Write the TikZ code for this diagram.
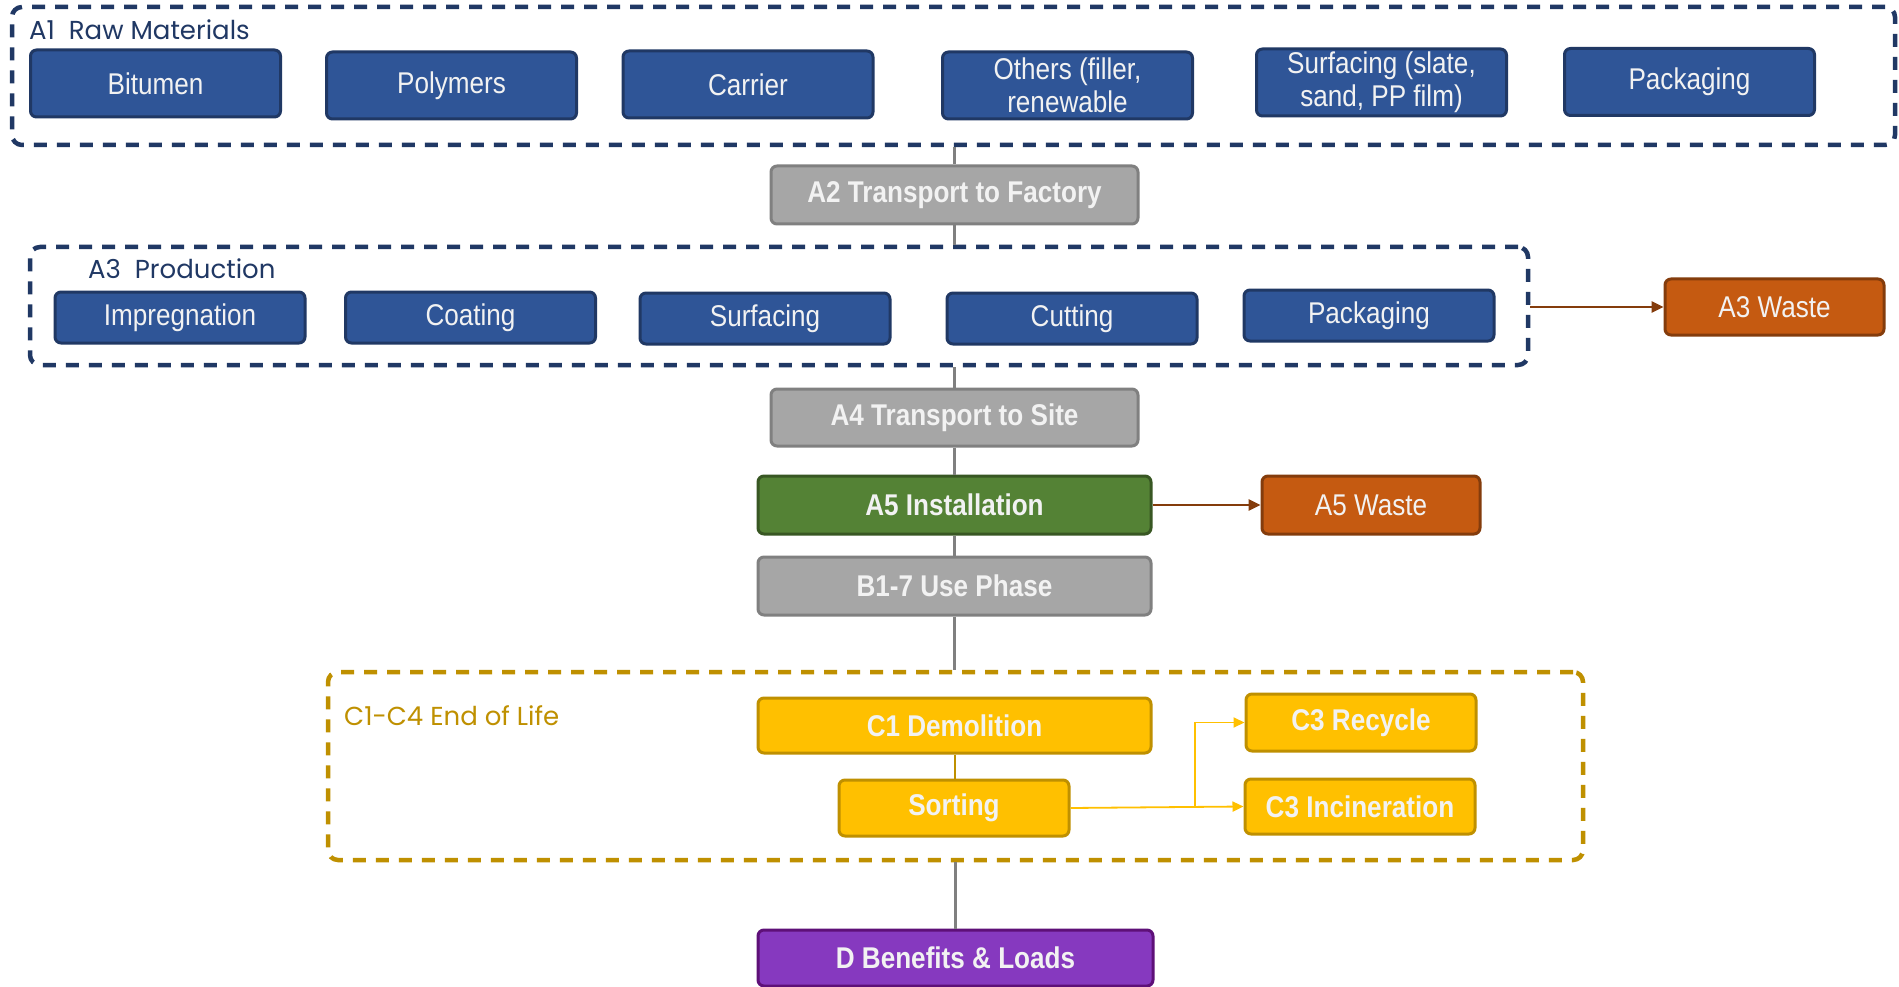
\documentclass[tikz,border=0pt]{standalone}
\usepackage{fontspec}
\setmainfont{Liberation Sans}
\newfontfamily\bx[FakeStretch=0.87]{Liberation Sans}
\newfontfamily\pop{Poppins}
\usetikzlibrary{arrows.meta}
\definecolor{navy}{HTML}{203864}
\definecolor{bluef}{HTML}{2F5597}
\definecolor{grayf}{HTML}{A6A6A6}
\definecolor{grayd}{HTML}{808080}
\definecolor{greenf}{HTML}{548235}
\definecolor{greend}{HTML}{385723}
\definecolor{orangef}{HTML}{C55A11}
\definecolor{oranged}{HTML}{843C0C}
\definecolor{goldf}{HTML}{FFC000}
\definecolor{goldd}{HTML}{BF9000}
\definecolor{purplef}{HTML}{8639BF}
\definecolor{purpled}{HTML}{5E1078}
\definecolor{txt}{HTML}{F2F2F2}
\tikzset{
  x=1pt,y=-1pt,
  box/.style={rectangle, rounded corners=6pt, line width=3pt, inner sep=0pt, align=center,
    text=txt, font=\bx\fontsize{30}{33}\selectfont},
  bluebox/.style={box, fill=bluef, draw=navy, minimum width=250pt, minimum height=67pt},
  prodbox/.style={box, fill=bluef, draw=navy, minimum width=250pt, minimum height=51pt},
  graybox/.style={box, fill=grayf, draw=grayd, font=\bx\bfseries\fontsize{30}{33}\selectfont},
  greenbox/.style={box, fill=greenf, draw=greend, font=\bx\bfseries\fontsize{30}{33}\selectfont},
  wastebox/.style={box, fill=orangef, draw=oranged},
  goldbox/.style={box, fill=goldf, draw=goldd, font=\bx\bfseries\fontsize{30}{33}\selectfont, minimum width=230pt},
  purplebox/.style={box, fill=purplef, draw=purpled, font=\bx\bfseries\fontsize{30}{33}\selectfont},
  group/.style={rectangle, rounded corners=10pt, line width=4.5pt, dash pattern=on 13pt off 10pt, inner sep=0pt},
  grouplabel/.style={anchor=west, inner sep=0pt, font=\pop\fontsize{26}{30}\selectfont},
  conn/.style={draw=grayd, line width=3pt},
  wastearrow/.style={draw=oranged, line width=2.5pt, -{Triangle[length=12pt,width=11pt]}},
  goldarrow/.style={draw=goldf, line width=1.8pt, -{Triangle[length=11pt,width=10pt]}},
}
\begin{document}
\begin{tikzpicture}
\useasboundingbox (0,0) rectangle (1899,987);
\fill[white] (0,0) rectangle (1899,987);

% A1 group
\node[group, draw=navy, minimum width=1883pt, minimum height=138pt] (A1g) at (953.5,76) {};
\node[grouplabel, text=navy] (A1l) at (29,30) {A1\ \ Raw Materials};
\node[bluebox] (bit) at (155.5,83.5) {Bitumen};
\node[bluebox] (pol) at (451.5,85.5) {Polymers};
\node[bluebox] (car) at (748,84.5) {Carrier};
\node[bluebox] (oth) at (1067.5,85.5) {Others (filler,\\renewable};
\node[bluebox] (sur) at (1381.5,82.5) {Surfacing (slate,\\sand, PP film)};
\node[bluebox] (pac) at (1689.5,82) {Packaging};

% A2
\node[graybox, minimum width=367pt, minimum height=58pt] (A2) at (954.5,195) {A2 Transport to Factory};

% A3 group
\node[group, draw=navy, minimum width=1498pt, minimum height=118pt] (A3g) at (779,306) {};
\node[grouplabel, text=navy] (A3l) at (88,269) {A3\ \ Production};
\node[prodbox] (imp) at (180,317.5) {Impregnation};
\node[prodbox] (coa) at (470.5,317.5) {Coating};
\node[prodbox] (surf) at (765,318.5) {Surfacing};
\node[prodbox] (cut) at (1072,318.5) {Cutting};
\node[prodbox] (pack) at (1369,315.5) {Packaging};
\node[wastebox, minimum width=219pt, minimum height=56pt] (A3w) at (1774.5,307) {A3 Waste};

% A4, A5, B
\node[graybox, minimum width=367pt, minimum height=57pt] (A4) at (954.5,417.5) {A4 Transport to Site};
\node[greenbox, minimum width=393pt, minimum height=58pt] (A5) at (954.5,505) {A5 Installation};
\node[wastebox, minimum width=218pt, minimum height=58pt] (A5w) at (1371,505) {A5 Waste};
\node[graybox, minimum width=393pt, minimum height=58pt] (B) at (954.5,586) {B1-7 Use Phase};

% C group
\node[group, draw=goldd, minimum width=1255pt, minimum height=188pt] (Cg) at (955.5,766) {};
\node[grouplabel, text=goldd] (Cl) at (344,716) {C1-C4 End of Life};
\node[goldbox, minimum width=393pt, minimum height=55pt] (C1) at (954.5,725.5) {C1 Demolition};
\node[goldbox, minimum height=56pt] (sort) at (954,808) {Sorting};
\node[goldbox, minimum height=57pt] (rec) at (1361,722.5) {C3 Recycle};
\node[goldbox, minimum height=55pt] (inc) at (1360,806.5) {C3 Incineration};

% D
\node[purplebox, minimum width=395pt, minimum height=56pt] (D) at (955.5,958) {D Benefits \& Loads};

% connectors
\draw[conn] (A2.north |- A1g.south) -- (A2.north);
\draw[conn] (A2.south) -- (A2.south |- A3g.north);
\draw[conn] (A4.north |- A3g.south) -- (A4.north);
\draw[conn] (A4.south) -- (A5.north);
\draw[conn] (A5.south) -- (B.north);
\draw[conn] (B.south) -- (B.south |- Cg.north);
\draw[conn] (D.north |- Cg.south) -- (D.north);
\draw[draw=goldd, line width=2pt] (C1.south) -- (C1.south |- sort.north);
\draw[wastearrow] (A3g.east |- A3w.west) -- (A3w.west);
\draw[wastearrow] (A5.east) -- (A5w.west);
\coordinate (br) at (1195,807);
\draw[goldarrow] (sort.east) -- (inc.west);
\draw[goldarrow] (br) -- (br |- rec.west) -- (rec.west);
\end{tikzpicture}
\end{document}
